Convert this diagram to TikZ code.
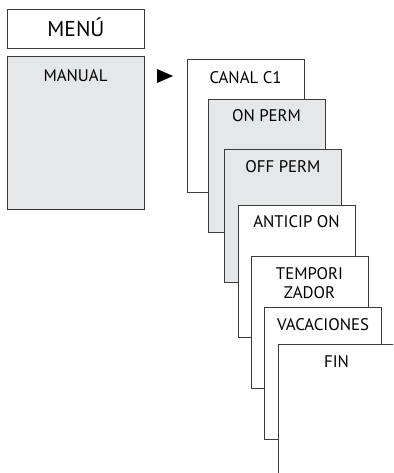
\documentclass[tikz,border=0pt]{standalone}
\usepackage{fontspec}
\setmainfont{PT Sans}
\definecolor{panelgray}{HTML}{E6E7E8}
\definecolor{edge}{HTML}{3A3A3A}
\begin{document}
\begin{tikzpicture}[x=1pt,y=-1pt,
  screen/.style={draw=edge, line width=1pt, fill=white, minimum width=117pt,
    minimum height=132pt, anchor=north west, inner sep=0pt, outer sep=0pt},
  shaded/.style={screen, fill=panelgray},
  caption/.style={anchor=base, inner sep=0pt, font=\fontsize{16.8}{19}\selectfont, text=black, align=center}]
\useasboundingbox (0,0) rectangle (393,473);
\clip (0,0) rectangle (393,473);

% main menu column
\node[draw=edge, line width=1pt, fill=white, minimum width=137pt, minimum height=39pt,
  anchor=north west, inner sep=0pt] (menu) at (7,9) {};
\node[anchor=base, inner sep=0pt, font=\fontsize{21.5}{24}\selectfont] (menut) at ([yshift=-8pt]menu.center) {MENÚ};
\node[shaded, minimum width=137pt, minimum height=152pt] (manual) at (7,57) {};
\node[caption] (manualt) at ([yshift=-24.5pt]manual.north) {MANUAL};

% pointer
\fill[black] (157,69) -- (173,76) -- (157,83) -- cycle;

% stacked sub-menu screens
\node[screen] (c1) at (187,60) {};
\node[caption] (c1t) at ([yshift=-23.3pt]c1.north) {CANAL C1};
\node[shaded] (on) at (208,100) {};
\node[caption] (ont) at ([yshift=-22pt]on.north) {ON PERM};
\node[shaded] (off) at (224.5,150) {};
\node[caption] (offt) at ([yshift=-22pt]off.north) {OFF PERM};
\node[screen] (ant) at (238,205) {};
\node[caption] (antt) at ([yshift=-22.5pt]ant.north) {ANTICIP ON};
\node[screen] (tmp) at (251,256) {};
% two-line caption: base anchor sits on the second line
\node[caption] (tmpt) at ([yshift=-42.5pt]tmp.north) {TEMPORI\\ZADOR};
\node[screen] (vac) at (264.5,307) {};
\node[caption] (vact) at ([yshift=-23pt]vac.north) {VACACIONES};
\node[screen] (fin) at (278,344) {};
\node[caption] (fint) at ([yshift=-23pt]fin.north) {FIN};
\end{tikzpicture}
\end{document}
